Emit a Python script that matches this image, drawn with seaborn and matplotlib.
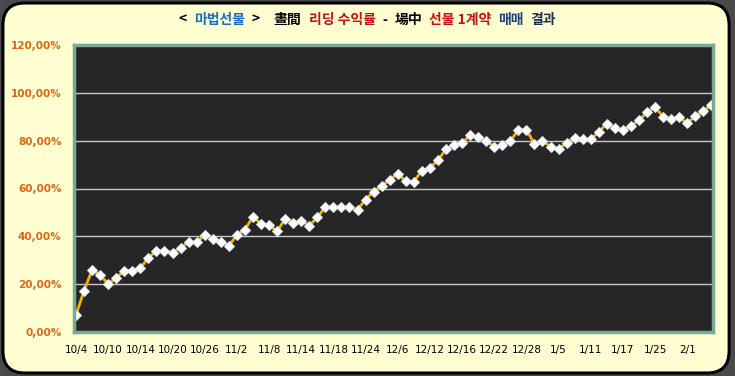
import matplotlib
matplotlib.use('Agg')
import matplotlib.pyplot as plt
import seaborn as sns
import pandas as pd
import numpy as np
from matplotlib.patches import FancyBboxPatch
from matplotlib.offsetbox import TextArea, HPacker, AnchoredOffsetbox
from matplotlib.ticker import FuncFormatter

# 누적 수익률 (%) - 거래일 순서
returns = [7.2, 17.3, 26.0, 23.9, 20.0, 22.6, 25.7, 25.7, 26.8, 31.0,
           34.0, 34.0, 33.2, 35.1, 37.6, 37.6, 40.5, 39.0, 37.8, 36.1,
           40.5, 42.8, 48.2, 45.3, 44.6, 42.2, 47.3, 45.7, 46.5, 44.5,
           47.9, 52.3, 52.3, 52.1, 52.1, 51.2, 55.4, 58.7, 61.2, 63.5,
           66.2, 63.0, 62.9, 67.5, 68.7, 71.8, 76.4, 78.2, 79.0, 82.3,
           81.4, 79.8, 77.5, 78.0, 79.8, 84.6, 84.6, 78.6, 80.0, 77.4,
           76.5, 79.0, 81.2, 80.5, 80.5, 83.7, 87.1, 85.1, 84.4, 86.2,
           88.5, 91.9, 94.0, 90.1, 89.0, 89.8, 87.3, 90.3, 92.3, 95.0]
date_labels = ['10/4', '10/10', '10/14', '10/20', '10/26', '11/2', '11/8', '11/14',
               '11/18', '11/24', '12/6', '12/12', '12/16', '12/22', '12/28', '1/5',
               '1/11', '1/17', '1/25', '2/1']
label_step = 4
y_ticks = [0, 20, 40, 60, 80, 100, 120]

df = pd.DataFrame({'day': np.arange(len(returns)), 'ret': returns})

sns.set_style('white')
plt.rcParams['font.family'] = ['Noto Sans CJK KR', 'DejaVu Sans']

fig = plt.figure(figsize=(7.35, 3.76), dpi=100)
fig.patch.set_facecolor('#4a4a4a')
# 둥근 테두리 배경
panel = FancyBboxPatch((0.004, 0.008), 0.988, 0.984,
                       boxstyle='round,pad=0,rounding_size=0.03',
                       transform=fig.transFigure, facecolor='#ffffd2',
                       edgecolor='#000000', linewidth=2.2, mutation_aspect=735 / 376,
                       zorder=-5)
fig.patches.append(panel)

ax = fig.add_axes([74 / 735, 1 - 332 / 376, 639 / 735, 287 / 376])
ax.set_facecolor('#262626')

sns.lineplot(data=df, x='day', y='ret', ax=ax, color='#f0b400', linewidth=2,
             marker='D', markersize=4.8, markerfacecolor='white',
             markeredgecolor='#dfe6f2', markeredgewidth=0.7)

ax.set_xlim(-0.25, len(returns) - 0.8)
ax.set_ylim(0, 120)
ax.set_yticks(y_ticks)
ax.yaxis.set_major_formatter(FuncFormatter(lambda v, p: f'{v:.2f}%'.replace('.', ',')))
ax.set_xticks(np.arange(0, len(date_labels) * label_step, label_step))
ax.set_xticklabels(date_labels)
for v in y_ticks[1:-1]:
    ax.axhline(v, color='#c8c8c8', linewidth=1, zorder=0.5)
ax.tick_params(axis='y', length=0, pad=9, labelsize=7.5)
ax.tick_params(axis='x', length=0, pad=9, labelsize=7.5)
for lab in ax.get_yticklabels():
    lab.set_fontweight('bold')
    lab.set_color('#e06414')
    lab.set_family(['DejaVu Sans'])
for lab in ax.get_xticklabels():
    lab.set_color('#000000')
    lab.set_family(['DejaVu Sans'])
for s in ax.spines.values():
    s.set_color('#7aa898')
    s.set_linewidth(2.5)
ax.set_xlabel('')
ax.set_ylabel('')

# 제목 (여러 색)
parts = [('<', 'black'), ('마법선물', '#1a6ec0'), ('>', 'black'), ('', 'black'),
         ('晝間', 'black'), ('리딩 수익률', '#cc1010'), ('-', 'black'),
         ('場中', 'black'), ('선물 1계약', '#cc1010'), ('매매', '#1f3f7a'),
         ('결과', '#203050')]
boxes = [TextArea(t, textprops=dict(color=c, fontsize=10, fontweight='bold'))
         for t, c in parts]
title = HPacker(children=boxes, align='center', pad=0, sep=5)
anch = AnchoredOffsetbox(loc='center', child=title, frameon=False, pad=0,
                         bbox_to_anchor=(0.5, 1 - 20 / 376),
                         bbox_transform=fig.transFigure, borderpad=0)
ax.add_artist(anch)

fig.savefig('out.png', dpi=100, facecolor=fig.get_facecolor())
